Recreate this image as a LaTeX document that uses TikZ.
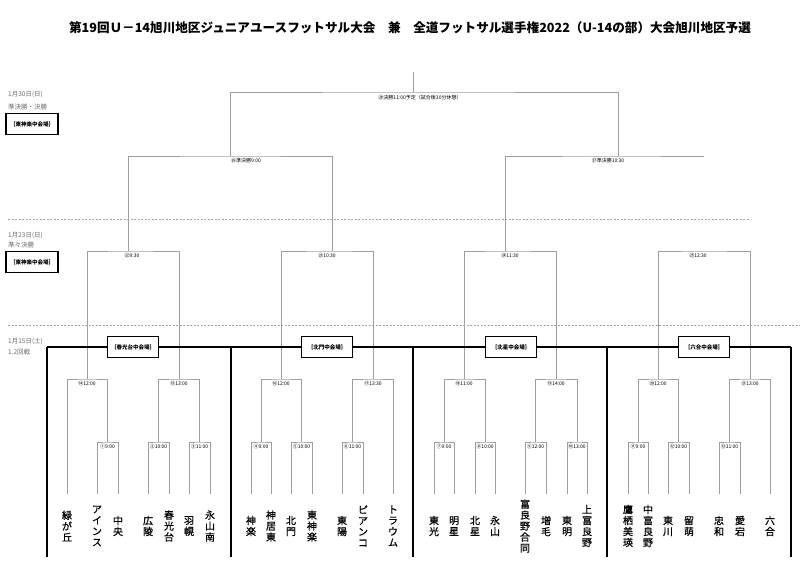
\documentclass[tikz,border=0pt]{standalone}
\usepackage{fontspec}
\setmainfont{Noto Sans CJK JP}
\newfontfamily\teamfont{Noto Sans CJK JP}[BoldFont={Noto Sans CJK JP}, BoldFeatures={FakeBold=0.8}]
\usetikzlibrary{positioning}

\tikzset{
  wire/.style={draw=gray!75, line width=0.6pt},
  venue/.style={draw=black, line width=1.6pt},
  dayline/.style={draw=gray!70, line width=0.5pt, dash pattern=on 2pt off 1.5pt},
  hall/.style={draw=black, line width=1.4pt, fill=white, inner sep=0pt,
    minimum width=51pt, minimum height=21pt, font=\bfseries\fontsize{5.5}{6}\selectfont},
  datelabel/.style={anchor=west, inner sep=0pt, text=gray!85!black, font=\fontsize{6.5}{7}\selectfont},
  kickoff/.style={inner sep=0pt, font=\fontsize{5}{6}\selectfont},
  team/.style={align=center, inner sep=0pt, font=\teamfont\bfseries\fontsize{10}{11}\selectfont}
}

\begin{document}
\begin{tikzpicture}[x=1pt,y=-1pt]
  \useasboundingbox (0,0) rectangle (800,571);

  \node[font=\bfseries\fontsize{12.6}{14}\selectfont] (title) at (410,28)
    {第19回Ｕ－14旭川地区ジュニアユースフットサル大会　兼　全道フットサル選手権2022（U-14の部）大会旭川地区予選};

  % days on the left
  \node[datelabel] (day1)  at (8,94)  {1月30日(日)};
  \node[datelabel] (day1b) at (8,107) {準決勝・決勝};
  \node[hall, minimum width=52pt] (hall1) at (32,124) {［東神楽中会場］};
  \node[datelabel] (day2)  at (8,235) {1月23日(日)};
  \node[datelabel] (day2b) at (8,245) {準々決勝};
  \node[hall, minimum width=52pt] (hall2) at (32,262) {［東神楽中会場］};
  \node[datelabel] (day3)  at (8,341) {1月15日(土)};
  \node[datelabel] (day3b) at (8,352) {1.2回戦};

  \coordinate (s1a) at (8,219);   \coordinate (s1b) at (750,219);
  \coordinate (s2a) at (8,325);   \coordinate (s2b) at (800,325);
  \draw[dayline] (s1a) -- (s1b);
  \draw[dayline] (s2a) -- (s2b);

  % teams
  \foreach \i/\x/\name in {1/67/緑\\が\\丘, 2/97/ア\\イ\\ン\\ス, 3/118/中\\央, 4/148/広\\陵,
      5/169/春\\光\\台, 6/189/羽\\幌, 7/210/永\\山\\南, 8/251/神\\楽, 9/271/神\\居\\東,
      10/291/北\\門, 11/312/東\\神\\楽, 12/342/東\\陽, 13/363/ピ\\ア\\ン\\コ, 14/393/ト\\ラ\\ウ\\ム,
      15/434/東\\光, 16/454/明\\星, 17/475/北\\星, 18/495/永\\山, 19/525/富\\良\\野\\合\\同,
      20/546/増\\毛, 21/567/東\\明, 22/587/上\\富\\良\\野, 23/628/鷹\\栖\\美\\瑛,
      24/648/中\\富\\良\\野, 25/668/東\\川, 26/689/留\\萌, 27/719/忠\\和, 28/740/愛\\宕, 29/770/六\\合}{
    \coordinate (t\i) at (\x,494);
    \node[team] (n\i) at (\x,526) {\name};
  }

  % 1st round
  \foreach \m/\a/\b/\x/\lab in {1/t2/t3/107.5/①9:00, 2/t4/t5/158.5/②10:00, 3/t6/t7/199.5/③11:00,
      4/t8/t9/261/④9:00, 5/t10/t11/301.5/⑤10:00, 6/t12/t13/352.5/⑥11:00,
      7/t15/t16/444/⑦9:00, 8/t17/t18/485/⑧10:00, 9/t19/t20/535.5/⑨12:00, 10/t21/t22/577/⑩13:00,
      11/t23/t24/638/⑪9:00, 12/t25/t26/678.5/⑫10:00, 13/t27/t28/729.5/⑬11:00}{
    \coordinate (m\m) at (\x,442);
    \draw[wire] (\a) |- (m\m) -| (\b);
    \node[kickoff, below=2pt of m\m] (k\m) {\lab};
  }

  % 2nd round
  \foreach \m/\a/\b/\x/\lab in {14/t1/m1/87/⑭12:00, 15/m2/m3/179/⑮13:00, 16/m4/m5/281/⑯12:00,
      17/m6/t14/373/⑰13:30, 18/m7/m8/464/⑱11:00, 19/m9/m10/556/⑲14:00,
      20/m11/m12/658/⑳12:00, 21/m13/t29/750/㉑13:00}{
    \coordinate (m\m) at (\x,379);
    \draw[wire] (\a) |- (m\m) -| (\b);
    \node[kickoff, below=2pt of m\m] (k\m) {\lab};
  }

  % quarter finals
  \foreach \m/\a/\b/\x/\dx/\lab in {22/m14/m15/128/4/㉒9:30, 23/m16/m17/332/-5/㉓10:30,
      24/m18/m19/505/5/㉔11:30, 25/m20/m21/704/-6/㉕12:30}{
    \coordinate (m\m) at (\x,251);
    \draw[wire] (\a) |- (m\m) -| (\b);
    \node[kickoff, below=2pt of m\m, xshift=\dx pt] (k\m) {\lab};
  }

  % semi finals and final
  \coordinate (m26) at (230,156);
  \coordinate (m27) at (618,156);
  \coordinate (m28) at (413,92);
  \coordinate (champ) at (413,72);
  \draw[wire] (m22) |- (m26) -| (m23);
  \draw[wire] (m24) |- (m27) -- (m27 -| m25);
  \draw[wire] (m26) |- (m28) -| (m27);
  \draw[wire] (m28) -- (champ);
  \node[kickoff, below=2pt of m26, xshift=16pt] (k26) {㉖準決勝9:00};
  \node[kickoff, below=2pt of m27, xshift=-10pt] (k27) {㉗準決勝10:30};
  \node[kickoff, below=3pt of m28, xshift=7pt] (k28) {㉘決勝11:00予定（試合後30分休憩）};

  % venues
  \foreach \v/\x in {1/47, 2/231, 3/413, 4/607, 5/791}{
    \coordinate (v\v) at (\x,347);
    \draw[venue] (v\v) -- ++(0,210);
  }
  \draw[venue] (v1) -- (v5);
  \node[hall] (hall3) at (133,347) {［春光台中会場］};
  \node[hall] (hall4) at (327,347) {［北門中会場］};
  \node[hall] (hall5) at (511,347) {［北星中会場］};
  \node[hall] (hall6) at (704,347) {［六合中会場］};
\end{tikzpicture}
\end{document}
